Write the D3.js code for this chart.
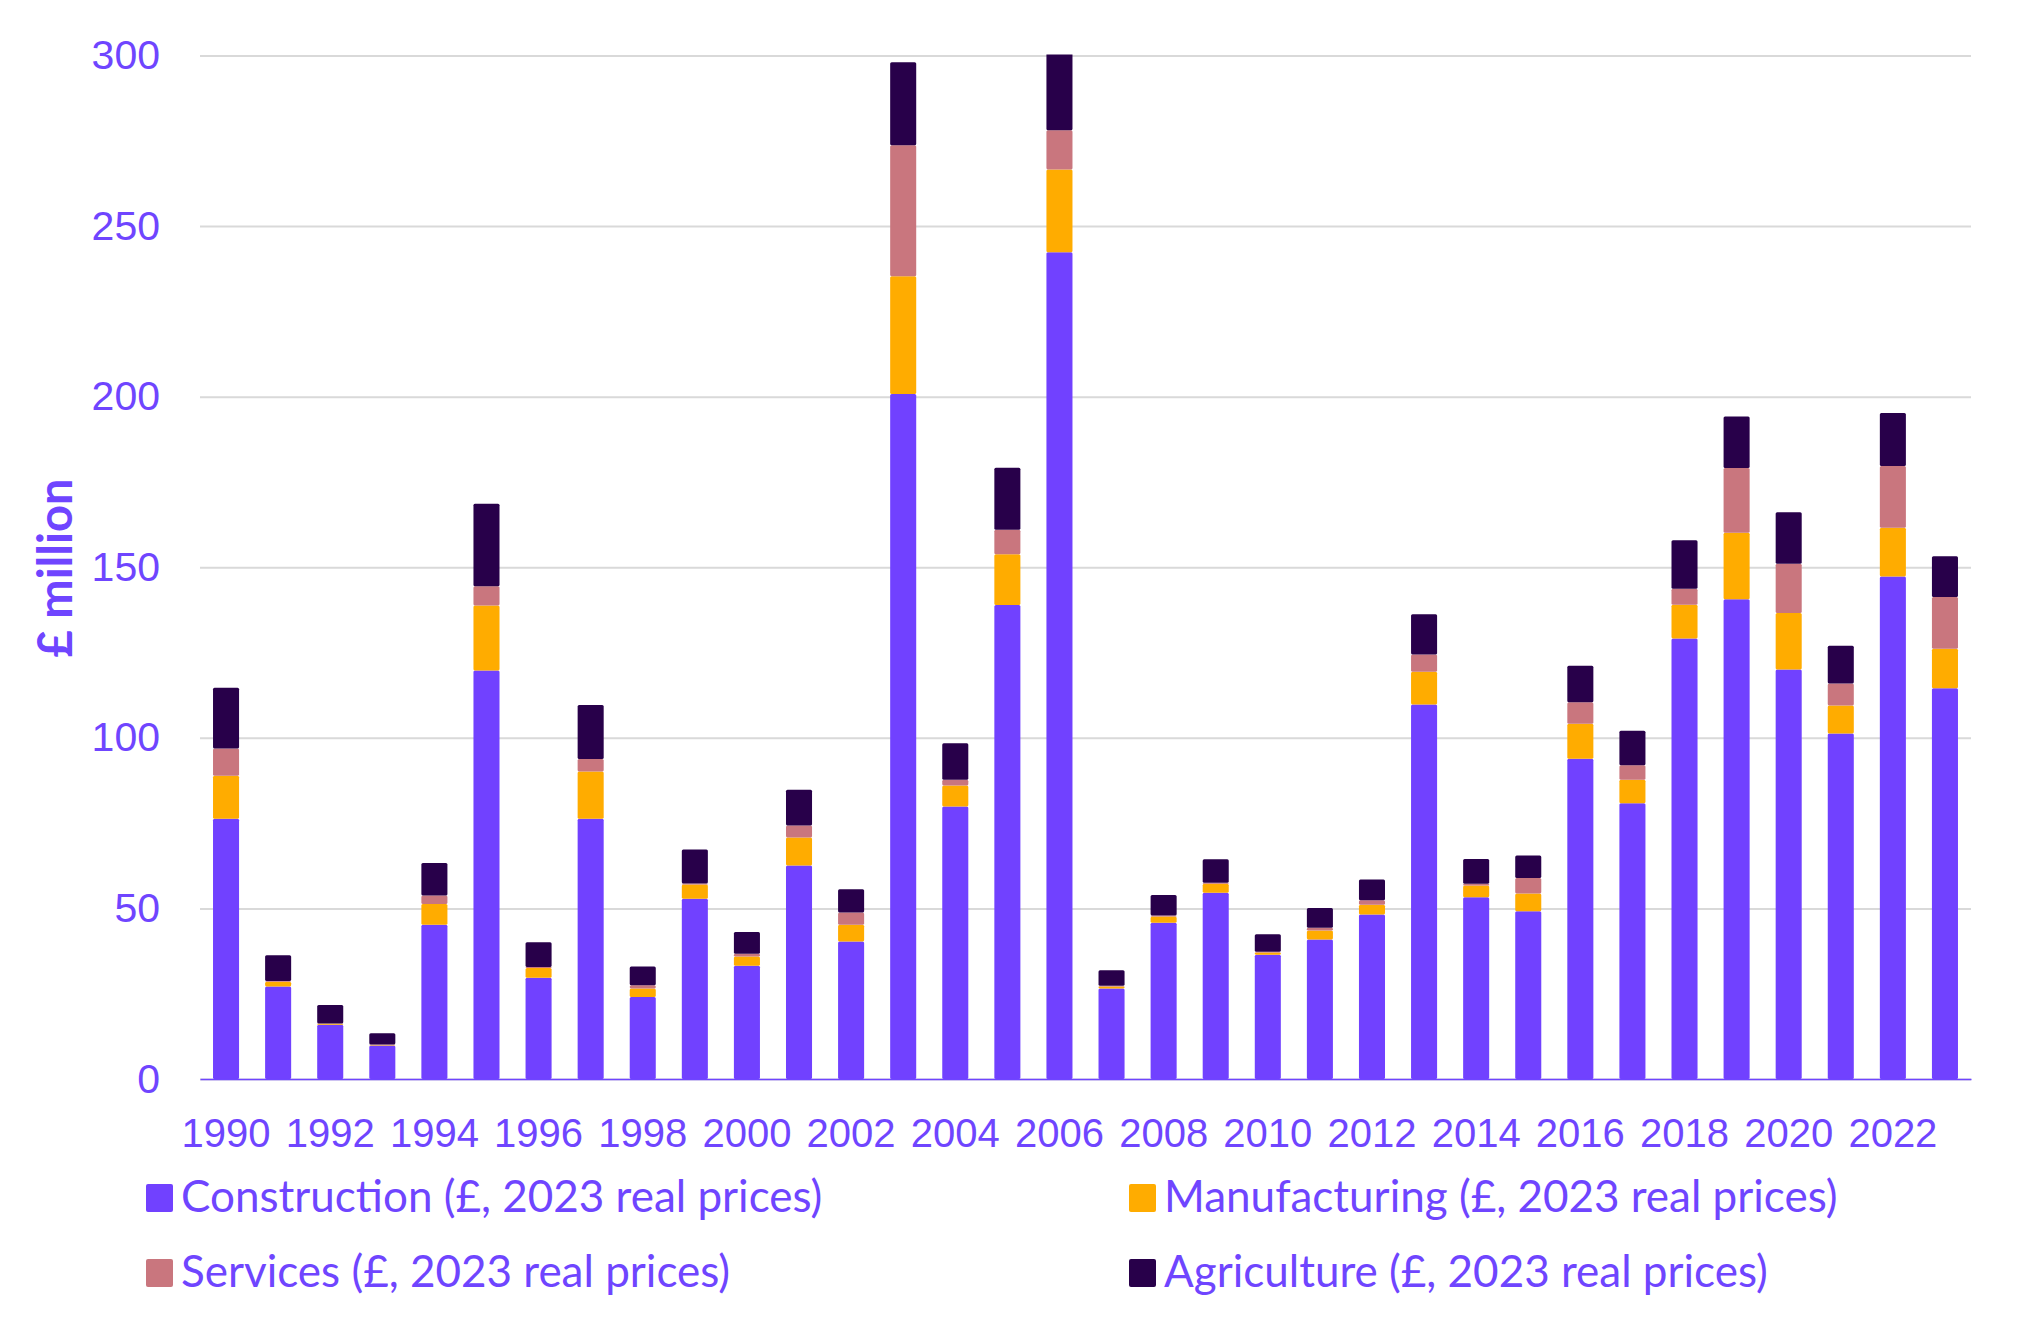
<!DOCTYPE html>
<html>
<head>
<meta charset="utf-8">
<script src="https://cdn.jsdelivr.net/npm/d3@7"></script>
<style>
    body { margin: 0; background: #fff; }
    svg { display: block; font-family: Lato, "Open Sans", sans-serif; }
</style>
</head>
<body>
<svg id="chart"></svg>
<script>
const years = [1990, 1991, 1992, 1993, 1994, 1995, 1996, 1997, 1998, 1999,
    2000, 2001, 2002, 2003, 2004, 2005, 2006, 2007, 2008, 2009,
    2010, 2011, 2012, 2013, 2014, 2015, 2016, 2017, 2018, 2019,
    2020, 2021, 2022, 2023];

// £ million, 2023 real prices
const construction = [76.3, 27.1, 15.9, 9.8, 45.2, 119.7, 29.7, 76.3, 24.0, 52.8,
    33.2, 62.6, 40.3, 200.8, 79.9, 138.9, 242.3, 26.5, 45.8, 54.6,
    36.4, 40.9, 48.2, 109.8, 53.3, 49.2, 93.9, 80.8, 129.1, 140.6,
    120.0, 101.3, 147.3, 114.5];
const manufacturing = [12.6, 1.4, 0.3, 0.2, 6.1, 19.1, 2.8, 13.8, 2.5, 4.2,
    2.7, 8.2, 4.9, 34.5, 6.1, 14.9, 24.3, 0.6, 1.8, 2.6,
    0.7, 2.6, 2.9, 9.6, 3.4, 5.2, 10.2, 6.9, 9.9, 19.5,
    16.6, 8.2, 14.3, 11.6];
const services = [8.0, 0.2, 0.1, 0.1, 2.5, 5.6, 0.3, 3.7, 1.0, 0.3,
    0.8, 3.5, 3.6, 38.4, 1.7, 7.2, 11.5, 0.2, 0.3, 0.3,
    0.2, 0.8, 1.3, 5.0, 0.5, 4.5, 6.3, 4.3, 4.7, 19.0,
    14.4, 6.4, 18.1, 15.2];
const agriculture = [17.8, 7.6, 5.4, 3.3, 9.5, 24.2, 7.3, 15.8, 5.5, 10.0,
    6.4, 10.5, 6.8, 24.3, 10.7, 18.2, 23.0, 4.6, 6.0, 6.9,
    5.1, 5.8, 6.1, 11.8, 7.3, 6.6, 10.7, 10.1, 14.2, 15.1,
    15.1, 11.1, 15.5, 11.9];

const seriesNames = [
    "Construction (£, 2023 real prices)",
    "Manufacturing (£, 2023 real prices)",
    "Services (£, 2023 real prices)",
    "Agriculture (£, 2023 real prices)"
];
const yTicks = [0, 50, 100, 150, 200, 250, 300];

const colors = ['#7141FF', '#FFAC00', '#C9767E', '#28004A'];
const textColor = '#6F45FF';

const width = 2022;
const height = 1341;
const margin = { top: 55.5, right: 51, bottom: 262, left: 200 };

function drawChart() {
    const keys = ['construction', 'manufacturing', 'services', 'agriculture'];
    const rows = years.map((year, i) => ({
        year: year,
        construction: construction[i],
        manufacturing: manufacturing[i],
        services: services[i],
        agriculture: agriculture[i]
    }));
    const stacked = d3.stack().keys(keys)(rows);

    const svg = d3.select('#chart')
        .attr('width', width)
        .attr('height', height);

    const innerW = width - margin.left - margin.right;
    const innerH = height - margin.top - margin.bottom;

    const x = d3.scaleBand()
        .domain(years)
        .range([0, innerW])
        .paddingInner(0.5)
        .paddingOuter(0.25);

    const y = d3.scaleLinear()
        .domain([0, 300])
        .range([innerH, 0]);

    const g = svg.append('g')
        .attr('transform', `translate(${margin.left},${margin.top})`);

    // 2006 runs past the top of the axis, so clip to the plot
    svg.append('defs').append('clipPath')
        .attr('id', 'plot-clip')
        .append('rect')
        .attr('x', 0)
        .attr('y', -1)
        .attr('width', innerW)
        .attr('height', innerH + 2);

    // Gridlines + y labels
    const yAxis = g.append('g')
        .call(d3.axisLeft(y).tickValues(yTicks).tickSize(-innerW).tickPadding(40));
    yAxis.select('.domain').remove();
    yAxis.selectAll('.tick line')
        .attr('stroke', '#D9D9D9')
        .attr('stroke-width', 2);
    yAxis.selectAll('.tick text')
        .attr('x', -40)
        .attr('fill', textColor)
        .style('font-size', '41px');

    // Bars
    g.append('g')
        .attr('clip-path', 'url(#plot-clip)')
        .selectAll('g')
        .data(stacked)
        .enter().append('g')
        .attr('fill', (d, i) => colors[i])
        .selectAll('rect')
        .data(d => d)
        .enter().append('rect')
        .attr('x', d => x(d.data.year))
        .attr('y', d => y(d[1]))
        .attr('width', x.bandwidth())
        .attr('height', d => Math.max(0, y(d[0]) - y(d[1])))
        .attr('rx', 1.5);

    // x axis
    const xAxis = g.append('g')
        .attr('transform', `translate(0,${innerH})`)
        .call(d3.axisBottom(x).tickValues(years.filter(yr => yr % 2 === 0)).tickSize(0));
    xAxis.select('.domain')
        .attr('stroke', textColor)
        .attr('stroke-width', 1.5);
    xAxis.selectAll('.tick text')
        .attr('y', 68)
        .attr('dy', 0)
        .attr('fill', textColor)
        .style('font-size', '40px');

    // y axis title
    svg.append('text')
        .attr('transform', 'translate(72,568) rotate(-90)')
        .attr('text-anchor', 'middle')
        .attr('fill', textColor)
        .style('font-size', '47px')
        .style('font-weight', 'bold')
        .text('£ million');

    // Legend
    const legendPos = [
        { x: 146, y: 1184 },
        { x: 1129, y: 1184 },
        { x: 146, y: 1259 },
        { x: 1129, y: 1259 }
    ];
    const legend = svg.append('g')
        .selectAll('g')
        .data(seriesNames)
        .enter().append('g')
        .attr('transform', (d, i) => `translate(${legendPos[i].x},${legendPos[i].y})`);

    legend.append('rect')
        .attr('width', 27)
        .attr('height', 28)
        .attr('rx', 2)
        .attr('fill', (d, i) => colors[i]);

    legend.append('text')
        .attr('x', 35)
        .attr('y', 28)
        .attr('fill', textColor)
        .style('font-size', '44px')
        .text(d => d);
}

drawChart();
</script>
</body>
</html>
